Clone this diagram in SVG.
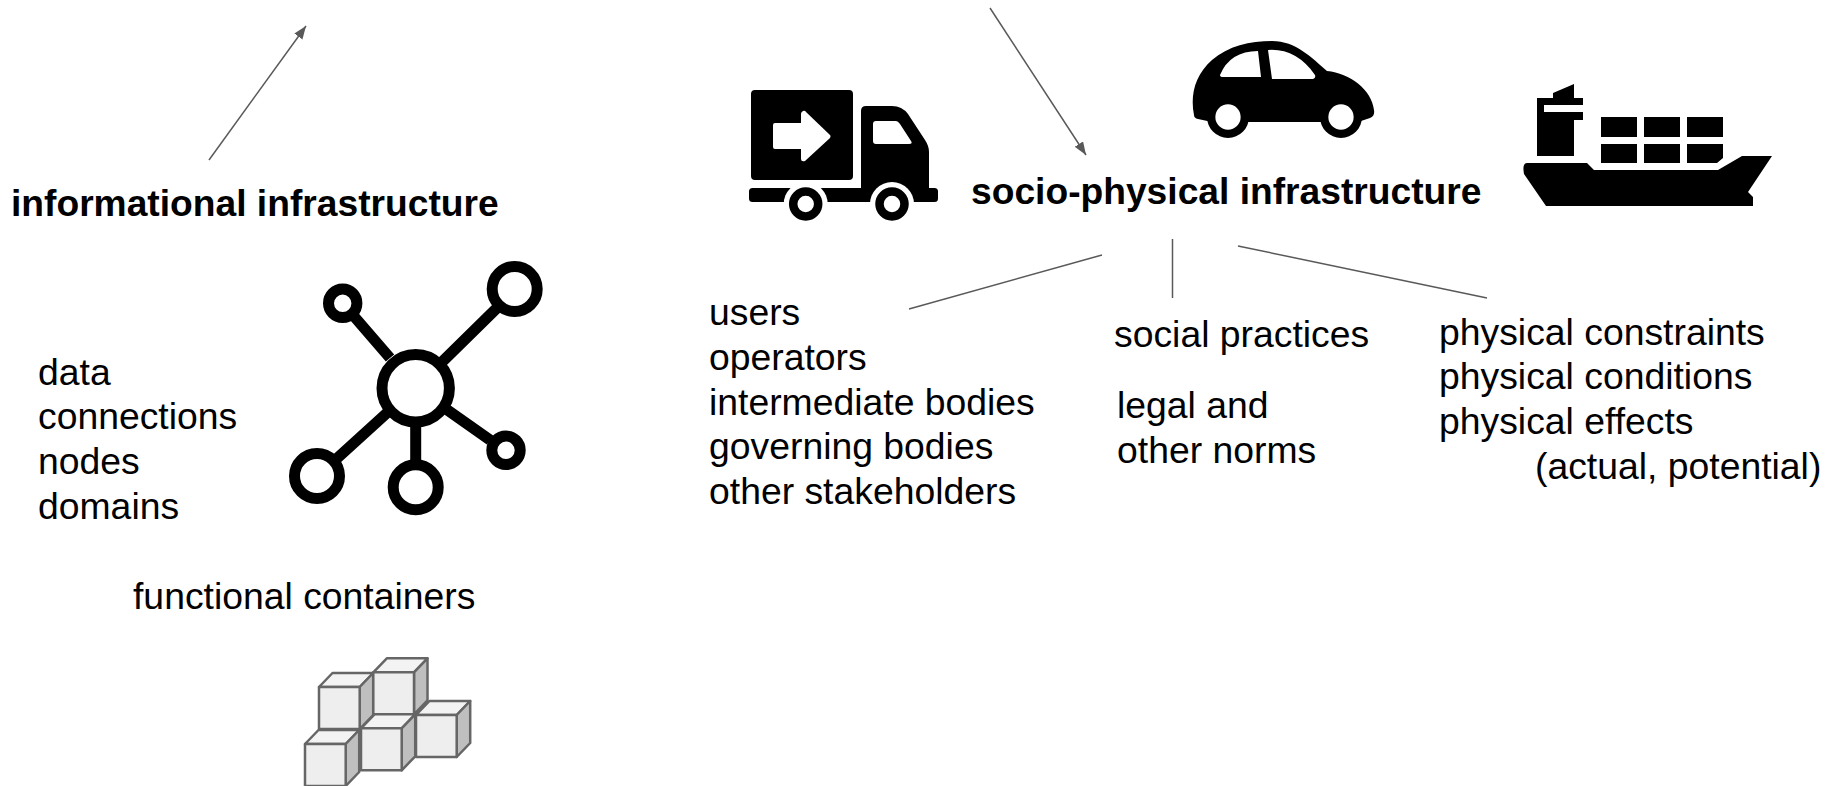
<svg xmlns="http://www.w3.org/2000/svg" width="1837" height="786" viewBox="0 0 1837 786">
<style>
text{font-family:"Liberation Sans",Arial,sans-serif;font-size:37.33px;fill:#000}
.b{font-weight:bold;font-size:37.2px}
.c{stroke:#595959;stroke-width:1.5;fill:none}
.n{fill:none;stroke:#000;stroke-width:11}
.f{fill:#eee}.t{fill:#f3f3f3}.s{fill:#bfbfbf}
.cube *{stroke:#666;stroke-width:2.500;stroke-linejoin:round}
</style>
<defs>
<marker id="a" markerUnits="userSpaceOnUse" markerWidth="14" markerHeight="12" refX="13" refY="5" orient="auto"><path d="M0 0L13 5L0 10Z" fill="#595959"/></marker>
<g id="cube"><path class="t" d="M0 0L13.500 -14H54.200L40.700 0Z"/><path class="s" d="M40.700 0L54.200 -14V28L40.700 42Z"/><rect class="f" width="40.700" height="42"/></g>
</defs>
<g id="connectors">
<path class="c" marker-end="url(#a)" d="M209 160L306 26"/>
<path class="c" marker-end="url(#a)" d="M990 8L1086 155"/>
<path class="c" d="M909 309L1102 255"/>
<path class="c" d="M1172.500 239V298"/>
<path class="c" d="M1238 246L1487 298"/>
</g>
<g id="informational"><text class="b" x="11" y="216">informational infrastructure</text></g>
<g id="socio-physical"><text class="b" x="971" y="204">socio-physical infrastructure</text></g>
<g id="info-list"><text x="38" y="385">data</text><text x="38" y="429">connections</text><text x="38" y="474">nodes</text><text x="38" y="519">domains</text></g>
<g id="functional"><text x="133" y="609">functional containers</text></g>
<g id="actors"><text x="709" y="325">users</text><text x="709" y="370">operators</text><text x="709" y="415">intermediate bodies</text><text x="709" y="459">governing bodies</text><text x="709" y="504">other stakeholders</text></g>
<g id="social"><text x="1114" y="347">social practices</text></g>
<g id="legal"><text x="1117" y="418">legal and</text><text x="1117" y="463">other norms</text></g>
<g id="physical"><text x="1439" y="345">physical constraints</text><text x="1439" y="389">physical conditions</text><text x="1439" y="434">physical effects</text><text x="1535" y="479">(actual, potential)</text></g>
<g id="network-icon">
<path d="M352 314L390 358M500 305L442 362M333 462L388 412M415.700 422V465M490 440L446 409" stroke="#000" stroke-width="11" fill="none"/>
<circle class="n" cx="415.700" cy="388.300" r="33.700"/><circle class="n" cx="514.700" cy="289" r="22.500"/><circle class="n" cx="342.700" cy="303.300" r="14.200"/><circle class="n" cx="317" cy="476" r="22.500"/><circle class="n" cx="415.700" cy="487.300" r="22.500"/><circle class="n" cx="506" cy="450.300" r="14.200"/>
</g>
<g id="containers-icon" class="cube">
<use href="#cube" x="319" y="687"/><use href="#cube" x="373.300" y="672.300"/><use href="#cube" x="416" y="715"/><use href="#cube" x="361" y="728.300"/><use href="#cube" x="305" y="744"/>
</g>
<g id="truck-icon">
<path fill-rule="evenodd" d="M755 90H849Q853 90 853 94V176Q853 180 849 180H755Q751 180 751 176V94Q751 90 755 90ZM803 111Q801 112 801 114V123H775Q773 123 773 125V147Q773 149 775 149H801V159Q801 162 805 161L830 138Q831 136 830 135L806 112Q805 110 803 111Z"/>
<path fill-rule="evenodd" d="M866 106H892Q902 106 908 114L925 140Q929 146 929 152V190H861V111Q861 106 866 106ZM876 121Q873 121 873 124V141Q873 144 876 144H909Q913 144 911 141L900 124Q898 121 896 121Z"/>
<rect x="749" y="188" width="189" height="14" rx="3.500"/>
<circle cx="805.700" cy="204" r="22" fill="#fff"/><circle cx="892" cy="204" r="22" fill="#fff"/>
<circle cx="805.700" cy="204" r="12.500" fill="#fff" stroke="#000" stroke-width="8.500"/><circle cx="892" cy="204" r="12.500" fill="#fff" stroke="#000" stroke-width="8.500"/>
</g>
<g id="car-icon">
<path fill-rule="evenodd" d="M1194 115C1190 95 1195 75 1212 60C1228 46 1250 41 1272 41C1296 41 1312 58 1327 71C1350 73 1372 90 1374 110Q1375 116 1370 118L1358 122H1212L1198 119Q1194 118 1194 115ZM1220 75Q1220 77 1223 77H1261L1258 51Q1230 51 1220 75ZM1268 50L1272 79H1313Q1316 78 1315 75Q1296 48 1268 50Z"/>
<circle cx="1228" cy="117" r="16.800" fill="#fff" stroke="#000" stroke-width="8.300"/><circle cx="1341" cy="117" r="16.800" fill="#fff" stroke="#000" stroke-width="8.300"/>
</g>
<g id="ship-icon">
<path d="M1537 98H1553V93L1574 84V98H1583V105H1544V112H1583V120H1574V156H1537Z"/>
<path d="M1601 117h36v20h-36zM1644 117h36v20h-36zM1687 117h36v20h-36zM1601 144h36v19h-36zM1644 144h36v19h-36zM1687 144h36v14l-6 5h-30z"/>
<path d="M1527 163H1587L1594 170H1718L1742 156H1772L1748 192L1753 197V206H1546L1524 174Q1522 163 1527 163Z"/>
</g>
</svg>
